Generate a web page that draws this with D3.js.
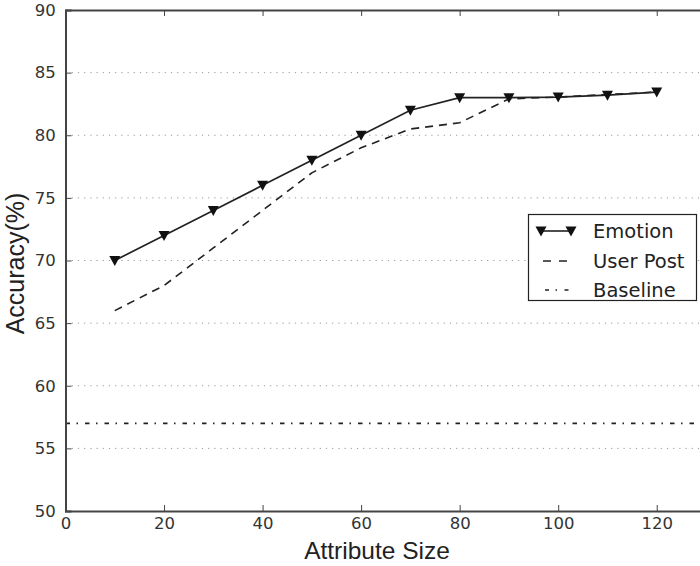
<!DOCTYPE html>
<html>
<head>
<meta charset="utf-8">
<script src="https://cdn.jsdelivr.net/npm/d3@7"></script>
<style>
  html, body { margin: 0; padding: 0; background: #fff; }
  svg { display: block; }
</style>
</head>
<body>
<svg id="chart" width="700" height="566"></svg>
<script>
// Attribute sizes and accuracy values for each feature set
const attributeSizes = [10, 20, 30, 40, 50, 60, 70, 80, 90, 100, 110, 120];
const emotionAcc = [70, 72, 74, 76, 78, 80, 82, 83, 83, 83.05, 83.2, 83.45];
const userPostAcc = [66, 68, 71, 74, 77, 79, 80.5, 81, 82.9, 83.05, 83.25, 83.45];
const baselineAcc = 57;

const xTicks = [0, 20, 40, 60, 80, 100, 120];
const yTicks = [50, 55, 60, 65, 70, 75, 80, 85, 90];
const gridTicks = [55, 60, 65, 70, 75, 80, 85];

const svg = d3.select("#chart");
const plotLeft = 65.5, plotTop = 10, plotBottom = 511, plotRight = 706;

const x = d3.scaleLinear().domain([0, 130]).range([plotLeft, plotRight]);
const y = d3.scaleLinear().domain([50, 90]).range([plotBottom, plotTop]);

const axisColor = "#444";
const tickFont = "DejaVu Sans, sans-serif";

// horizontal dotted grid
svg.append("g").selectAll("line").data(gridTicks).join("line")
  .attr("x1", plotLeft).attr("x2", 700)
  .attr("y1", d => y(d)).attr("y2", d => y(d))
  .attr("stroke", "#999").attr("stroke-width", 1)
  .attr("stroke-dasharray", "1.2,5");

// baseline (dash-dot)
svg.append("line")
  .attr("x1", plotLeft).attr("x2", 700)
  .attr("y1", y(baselineAcc)).attr("y2", y(baselineAcc))
  .attr("stroke", "#222").attr("stroke-width", 1.6)
  .attr("stroke-dasharray", "4.5,6.5,1.5,7");

// user post (dashed)
const line = d3.line().x((d, i) => x(attributeSizes[i])).y(d => y(d));
svg.append("path").datum(userPostAcc)
  .attr("d", line)
  .attr("fill", "none").attr("stroke", "#222").attr("stroke-width", 1.6)
  .attr("stroke-dasharray", "8,6");

// emotion (solid with down-triangle markers)
svg.append("path").datum(emotionAcc)
  .attr("d", line)
  .attr("fill", "none").attr("stroke", "#222").attr("stroke-width", 1.7);

const tri = "M-5.5,-4.5 L5.5,-4.5 L0,5.5 Z";
svg.append("g").selectAll("path").data(emotionAcc).join("path")
  .attr("transform", (d, i) => `translate(${x(attributeSizes[i])},${y(d)})`)
  .attr("d", tri)
  .attr("fill", "#111");

// axes (spines with inward ticks)
const xAxisB = d3.axisBottom(x).tickValues(xTicks).tickSize(-6).tickPadding(10).tickFormat(d3.format("d"));
const gx = svg.append("g").attr("transform", `translate(0,${plotBottom})`).call(xAxisB);
const xAxisT = d3.axisTop(x).tickValues(xTicks).tickSize(-6).tickFormat("");
const gxt = svg.append("g").attr("transform", `translate(0,${plotTop})`).call(xAxisT);
const yAxisL = d3.axisLeft(y).tickValues(yTicks).tickSize(-6).tickPadding(9).tickFormat(d3.format("d"));
const gy = svg.append("g").attr("transform", `translate(${plotLeft},0)`).call(yAxisL);

[gx, gxt, gy].forEach(g => {
  g.select(".domain").attr("stroke", axisColor).attr("stroke-width", 2);
  g.selectAll(".tick line").attr("stroke", axisColor).attr("stroke-width", 1);
  g.selectAll(".tick text").attr("fill", "#333")
    .style("font-family", tickFont).style("font-size", "16.5px");
});
gx.selectAll(".tick text").attr("dy", "0.5em");
gy.selectAll(".tick text").attr("dx", "-0.05em");

// axis titles
svg.append("text")
  .attr("x", 377).attr("y", 559)
  .attr("text-anchor", "middle")
  .style("font-family", "Liberation Sans, Arial, sans-serif")
  .style("font-size", "24.5px").attr("fill", "#222")
  .text("Attribute Size");

svg.append("text")
  .attr("transform", `translate(24,${(plotTop + plotBottom) / 2 + 3}) rotate(-90)`)
  .attr("text-anchor", "middle")
  .style("font-family", "Liberation Sans, Arial, sans-serif")
  .style("font-size", "25px").attr("fill", "#222")
  .text("Accuracy(%)");

// legend
const legend = svg.append("g");
legend.append("rect")
  .attr("x", 528.5).attr("y", 214.5).attr("width", 168).attr("height", 86)
  .attr("fill", "#fff").attr("stroke", "#222").attr("stroke-width", 1.2);

const legendItems = ["Emotion", "User Post", "Baseline"];
const legendY = [231, 261, 290];

// Emotion sample
legend.append("line").attr("x1", 541).attr("x2", 571)
  .attr("y1", legendY[0]).attr("y2", legendY[0])
  .attr("stroke", "#222").attr("stroke-width", 1.6);
legend.selectAll("path.mk").data([541, 571]).join("path")
  .attr("class", "mk")
  .attr("transform", d => `translate(${d},${legendY[0]})`)
  .attr("d", tri).attr("fill", "#111");
// User Post sample
legend.append("line").attr("x1", 543).attr("x2", 571)
  .attr("y1", legendY[1]).attr("y2", legendY[1])
  .attr("stroke", "#222").attr("stroke-width", 1.5)
  .attr("stroke-dasharray", "8,8");
// Baseline sample
legend.append("line").attr("x1", 545).attr("x2", 571)
  .attr("y1", legendY[2]).attr("y2", legendY[2])
  .attr("stroke", "#222").attr("stroke-width", 1.5)
  .attr("stroke-dasharray", "4,6.5,1.5,7.5");

legend.selectAll("text").data(legendItems).join("text")
  .attr("x", 593).attr("y", (d, i) => legendY[i])
  .attr("dy", "0.36em")
  .style("font-family", tickFont).style("font-size", "19.5px")
  .attr("fill", "#222")
  .text(d => d);
</script>
</body>
</html>
